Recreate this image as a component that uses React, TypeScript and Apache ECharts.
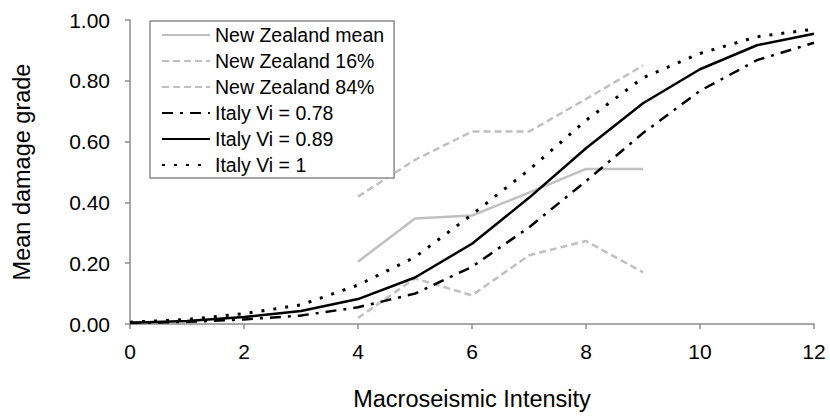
import React, { useEffect, useRef } from "react";
import * as echarts from "echarts";

const italyX = [0, 1, 2, 3, 4, 5, 6, 7, 8, 9, 10, 11, 12];
const nzX = [4, 5, 6, 7, 8, 9];

const nzMean = [0.205, 0.347, 0.357, 0.432, 0.51, 0.51];
const nz16 = [0.02, 0.15, 0.094, 0.226, 0.273, 0.17];
const nz84 = [0.419, 0.54, 0.633, 0.633, 0.74, 0.85];

const italy078 = [0.003, 0.007, 0.015, 0.028, 0.055, 0.1, 0.188, 0.318, 0.47, 0.628, 0.767, 0.868, 0.925];
const italy089 = [0.004, 0.01, 0.023, 0.043, 0.082, 0.153, 0.264, 0.415, 0.578, 0.726, 0.838, 0.917, 0.955];
const italy1 = [0.006, 0.015, 0.034, 0.063, 0.128, 0.22, 0.36, 0.507, 0.67, 0.81, 0.89, 0.945, 0.97];

const legendNames = [
  "New Zealand mean",
  "New Zealand 16%",
  "New Zealand 84%",
  "Italy Vi = 0.78",
  "Italy Vi = 0.89",
  "Italy Vi = 1",
];

const pairs = (xs: number[], ys: number[]) => xs.map((x, i) => [x, ys[i]]);

const FONT = "'Liberation Sans', Arial, sans-serif";

export default function App() {
  const ref = useRef<HTMLDivElement>(null);
  useEffect(() => {
    if (!ref.current) return;
    const chart = echarts.init(ref.current, undefined, { renderer: "svg" });
    const gray = "#c0c0c0";
    const axisColor = "#8c8c8c";
    chart.setOption({
      animation: false,
      backgroundColor: "#fff",
      grid: { left: 130, right: 16, top: 20, bottom: 88, containLabel: false },
      legend: {
        orient: "vertical",
        left: 150,
        top: 21,
        data: legendNames,
        backgroundColor: "#fff",
        borderColor: "#8c8c8c",
        borderWidth: 1.5,
        borderRadius: 0,
        padding: [4, 10, 3, 11],
        itemWidth: 48,
        itemHeight: 14,
        itemGap: 6,
        itemStyle: { color: "rgba(0,0,0,0)", borderWidth: 0, opacity: 0 },
        textStyle: { fontFamily: FONT, fontSize: 19.5, color: "#000", lineHeight: 20 },
      },
      xAxis: {
        type: "value",
        min: 0,
        max: 12,
        interval: 2,
        name: "Macroseismic Intensity",
        nameLocation: "middle",
        nameGap: 63,
        nameTextStyle: { fontFamily: FONT, fontSize: 23.5, color: "#000" },
        axisLine: { show: true, lineStyle: { color: axisColor, width: 1.5 } },
        axisTick: { show: true, length: 5, lineStyle: { color: axisColor, width: 1.5 } },
        axisLabel: { fontFamily: FONT, fontSize: 21, color: "#000", margin: 17 },
        splitLine: { show: false },
      },
      yAxis: {
        type: "value",
        min: 0,
        max: 1,
        interval: 0.2,
        name: "Mean damage grade",
        nameLocation: "middle",
        nameGap: 96,
        nameTextStyle: { fontFamily: FONT, fontSize: 23.5, color: "#000" },
        axisLine: { show: true, lineStyle: { color: axisColor, width: 1.5 } },
        axisTick: { show: true, length: 5, lineStyle: { color: axisColor, width: 1.5 } },
        axisLabel: {
          fontFamily: FONT,
          fontSize: 21,
          color: "#000",
          margin: 20,
          formatter: (v: number) => v.toFixed(2),
        },
        splitLine: { show: false },
      },
      series: [
        {
          name: legendNames[0],
          type: "line",
          data: pairs(nzX, nzMean),
          symbol: "none",
          lineStyle: { color: gray, width: 2.5, type: "solid" },
          itemStyle: { color: gray },
        },
        {
          name: legendNames[1],
          type: "line",
          data: pairs(nzX, nz16),
          symbol: "none",
          lineStyle: { color: gray, width: 2.5, type: [7, 4] },
          itemStyle: { color: gray },
        },
        {
          name: legendNames[2],
          type: "line",
          data: pairs(nzX, nz84),
          symbol: "none",
          lineStyle: { color: gray, width: 2.5, type: [7, 4] },
          itemStyle: { color: gray },
        },
        {
          name: legendNames[3],
          type: "line",
          data: pairs(italyX, italy078),
          symbol: "none",
          lineStyle: { color: "#000", width: 2.5, type: [11, 7, 3, 7] },
          itemStyle: { color: "#000" },
        },
        {
          name: legendNames[4],
          type: "line",
          data: pairs(italyX, italy089),
          symbol: "none",
          lineStyle: { color: "#000", width: 2.5, type: "solid" },
          itemStyle: { color: "#000" },
        },
        {
          name: legendNames[5],
          type: "line",
          data: pairs(italyX, italy1),
          symbol: "none",
          lineStyle: { color: "#000", width: 3, type: [3, 9] },
          itemStyle: { color: "#000" },
        },
      ],
    });
    return () => chart.dispose();
  }, []);
  return (
    <div
      ref={ref}
      style={{ position: "fixed", left: 0, top: 0, width: 830, height: 416, background: "#fff" }}
    />
  );
}
